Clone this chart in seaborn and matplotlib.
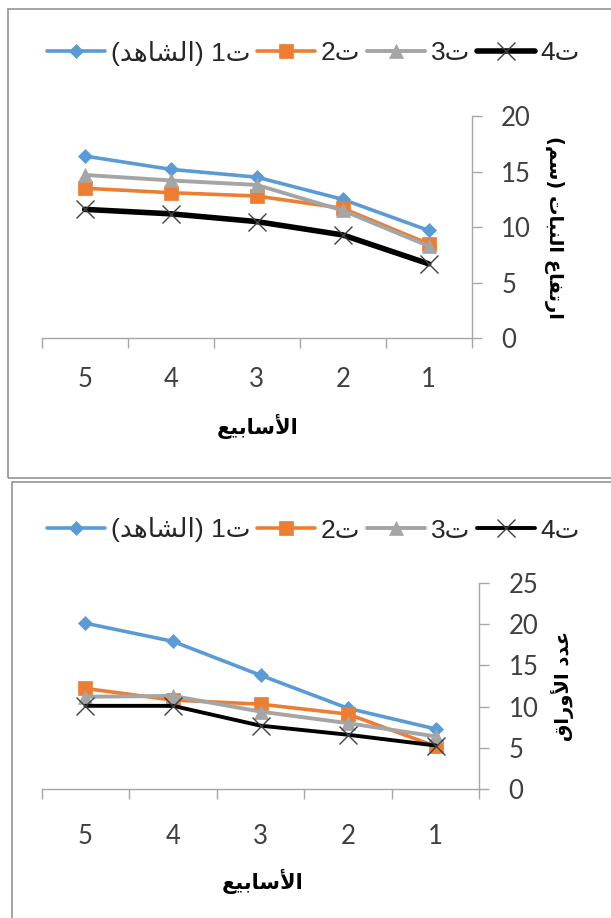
import matplotlib
matplotlib.use("Agg")
import matplotlib.pyplot as plt
from matplotlib.patches import Rectangle
from matplotlib.ticker import FixedLocator
import pandas as pd
import seaborn as sns

# ---- data -------------------------------------------------------------
weeks = ["5", "4", "3", "2", "1"]
series_names = ["ت1 (الشاهد)", "ت2", "ت3", "ت4"]

# plant height (cm)
height_t1 = [16.4, 15.2, 14.5, 12.5, 9.7]
height_t2 = [13.5, 13.1, 12.8, 11.7, 8.5]
height_t3 = [14.7, 14.2, 13.8, 11.5, 8.3]
height_t4 = [11.6, 11.2, 10.5, 9.3, 6.7]

# number of leaves
leaves_t1 = [20.1, 17.9, 13.8, 9.8, 7.3]
leaves_t2 = [12.2, 10.8, 10.3, 9.1, 5.2]
leaves_t3 = [11.2, 11.3, 9.4, 8.0, 6.4]
leaves_t4 = [10.1, 10.1, 7.7, 6.6, 5.3]

height_ticks = [0, 5, 10, 15, 20]
leaves_ticks = [0, 5, 10, 15, 20, 25]

x_title = "الأسابيع"
height_title = "ارتفاع النبات (سم)"
leaves_title = "عدد الأوراق"

# ---- minimal Arabic shaping + visual ordering -------------------------
FORMS = {
    "ا": (0xFE8D, 0xFE8E, None, None),
    "أ": (0xFE83, 0xFE84, None, None),
    "ب": (0xFE8F, 0xFE90, 0xFE91, 0xFE92),
    "ت": (0xFE95, 0xFE96, 0xFE97, 0xFE98),
    "د": (0xFEA9, 0xFEAA, None, None),
    "ر": (0xFEAD, 0xFEAE, None, None),
    "س": (0xFEB1, 0xFEB2, 0xFEB3, 0xFEB4),
    "ش": (0xFEB5, 0xFEB6, 0xFEB7, 0xFEB8),
    "ع": (0xFEC9, 0xFECA, 0xFECB, 0xFECC),
    "ف": (0xFED1, 0xFED2, 0xFED3, 0xFED4),
    "ق": (0xFED5, 0xFED6, 0xFED7, 0xFED8),
    "ل": (0xFEDD, 0xFEDE, 0xFEDF, 0xFEE0),
    "م": (0xFEE1, 0xFEE2, 0xFEE3, 0xFEE4),
    "ن": (0xFEE5, 0xFEE6, 0xFEE7, 0xFEE8),
    "ه": (0xFEE9, 0xFEEA, 0xFEEB, 0xFEEC),
    "و": (0xFEED, 0xFEEE, None, None),
    "ي": (0xFEF1, 0xFEF2, 0xFEF3, 0xFEF4),
    "\uE001": (0xFEFB, 0xFEFC, None, None),  # lam-alef
    "\uE002": (0xFEF7, 0xFEF8, None, None),  # lam-alef with hamza
}


def shape(text):
    text = text.replace("لا", "\uE001").replace("لأ", "\uE002")
    out = []
    for i, ch in enumerate(text):
        if ch not in FORMS:
            out.append(ch)
            continue
        iso, fin, ini, med = FORMS[ch]
        prev = text[i - 1] if i > 0 else ""
        nxt = text[i + 1] if i + 1 < len(text) else ""
        jp = prev in FORMS and FORMS[prev][2] is not None
        jn = nxt in FORMS and ini is not None
        if jp and jn:
            code = med
        elif jp:
            code = fin
        elif jn:
            code = ini
        else:
            code = iso
        out.append(chr(code))
    return "".join(out)


def rtl(text):
    shaped = shape(text)
    runs, cur, cur_digit = [], "", None
    for ch in shaped:
        d = ch.isdigit()
        if cur and d != cur_digit:
            runs.append((cur, cur_digit))
            cur = ""
        cur += ch
        cur_digit = d
    if cur:
        runs.append((cur, cur_digit))
    mirror = {"(": ")", ")": "("}
    parts = []
    for run, is_digit in reversed(runs):
        if is_digit:
            parts.append(run)
        else:
            parts.append("".join(mirror.get(c, c) for c in reversed(run)))
    return "".join(parts)


# ---- styling ----------------------------------------------------------
sns.set_theme(style="white")
plt.rcParams["font.family"] = ["Liberation Sans", "DejaVu Sans"]

W, H = 611, 918
fig = plt.figure(figsize=(W / 100, H / 100), dpi=100)

colors = ["#5B9BD5", "#ED7D31", "#A5A5A5", "#000000"]
markers = ["D", "s", "^", "x"]
axis_grey = "#A6A6A6"
tick_colour = "#404040"


def px_rect(x0, y_top, x1, y_bottom):
    return [x0 / W, 1 - y_bottom / H, (x1 - x0) / W, (y_bottom - y_top) / H]


def draw_panel(ax, series, ticks, widths, msizes, legend_y, x_title_xy,
               y_title, y_title_xy, y_rot, xlab_pad):
    frames = []
    for name, vals in zip(series_names, series):
        frames.append(pd.DataFrame({"week": weeks, "value": vals, "series": name}))
    df = pd.concat(frames, ignore_index=True)

    for i, name in enumerate(series_names):
        sub = df[df["series"] == name]
        is_x = markers[i] == "x"
        sns.lineplot(
            data=sub, x="week", y="value", ax=ax, sort=False,
            color=colors[i], linewidth=widths[i], marker=markers[i],
            markersize=msizes[i],
            markeredgecolor="#404040" if is_x else colors[i],
            markerfacecolor=colors[i],
            markeredgewidth=1.0 if is_x else 0.5,
            label=rtl(name), zorder=3 + i,
        )

    ax.set_xlim(-0.5, len(weeks) - 0.5)
    ax.set_ylim(ticks[0], ticks[-1])
    ax.set_xlabel("")
    ax.set_ylabel("")

    ax.yaxis.tick_right()
    ax.set_yticks(ticks)
    ax.tick_params(axis="y", which="major", length=7.2, width=1.0,
                   color=axis_grey, pad=14, labelsize=18.5,
                   labelcolor=tick_colour, right=True, left=False)
    ax.xaxis.set_minor_locator(FixedLocator([i - 0.5 for i in range(len(weeks) + 1)]))
    ax.tick_params(axis="x", which="minor", length=7.2, width=1.0,
                   color=axis_grey, bottom=True)
    ax.tick_params(axis="x", which="major", length=0, pad=xlab_pad,
                   labelsize=18.5, labelcolor=tick_colour)
    for lab in ax.get_xticklabels() + ax.get_yticklabels():
        lab.set_family("Lato")

    for s in ("left", "top"):
        ax.spines[s].set_visible(False)
    for s in ("right", "bottom"):
        ax.spines[s].set_color(axis_grey)
        ax.spines[s].set_linewidth(1.0)

    handles, labels = ax.get_legend_handles_labels()
    ax.legend(handles, labels, ncol=4, loc="center left",
              bbox_to_anchor=(47 / W, 1 - legend_y / H),
              bbox_transform=fig.transFigure, frameon=False,
              fontsize=19, handlelength=2.2, handletextpad=0.22,
              columnspacing=0.25, borderpad=0, borderaxespad=0,
              labelcolor="#262626")

    fig.text(x_title_xy[0] / W, 1 - x_title_xy[1] / H, rtl(x_title),
             ha="center", va="center", fontsize=15, fontweight="bold",
             family=["DejaVu Sans"], color="black")
    fig.text(y_title_xy[0] / W, 1 - y_title_xy[1] / H, rtl(y_title),
             ha="center", va="center", fontsize=14, fontweight="bold",
             family=["DejaVu Sans"], color="black", rotation=y_rot)


# top panel: plant height
ax1 = fig.add_axes(px_rect(41.7, 116, 471.7, 338.3))
draw_panel(ax1,
           [height_t1, height_t2, height_t3, height_t4], height_ticks,
           widths=[2.6, 2.6, 2.8, 4.0], msizes=[7.6, 9.5, 10.5, 13],
           legend_y=53, x_title_xy=(258, 426),
           y_title=height_title, y_title_xy=(554, 227), y_rot=270,
           xlab_pad=21)

# bottom panel: number of leaves
ax2 = fig.add_axes(px_rect(41.7, 582.7, 479.3, 789.3))
draw_panel(ax2,
           [leaves_t1, leaves_t2, leaves_t3, leaves_t4], leaves_ticks,
           widths=[2.6, 2.6, 2.8, 2.8], msizes=[6.8, 9.5, 9.5, 13],
           legend_y=530, x_title_xy=(263, 881),
           y_title=leaves_title, y_title_xy=(563, 686), y_rot=90,
           xlab_pad=25)

# panel frames
frame_col = "#8C8C8C"
fig.add_artist(Rectangle((8.3 / W, 1 - 477.7 / H), 1.2, (477.7 - 9) / H,
                         transform=fig.transFigure, fill=False,
                         ec=frame_col, lw=1.1))
fig.add_artist(Rectangle((11.7 / W, -0.2), 1.2, 0.2 + 1 - 481.7 / H,
                         transform=fig.transFigure, fill=False,
                         ec=frame_col, lw=1.1))

fig.savefig("out.png", dpi=100, facecolor="white")
